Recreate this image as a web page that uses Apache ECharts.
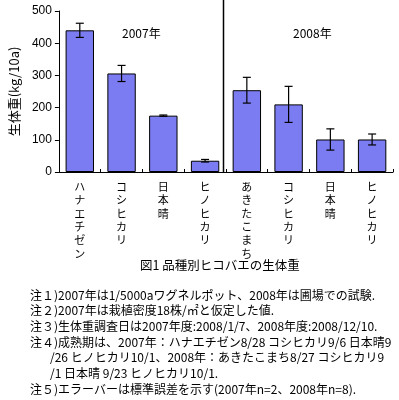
<!DOCTYPE html>
<html><head><meta charset="utf-8">
<script src="https://cdn.jsdelivr.net/npm/echarts@6/dist/echarts.min.js"></script>
<style>html,body{margin:0;padding:0;background:#fff}#c{width:399px;height:400px}</style>
</head><body><div id="c"></div>
<script>
const categories = ['ハナエチゼン','コシヒカリ','日本晴','ヒノヒカリ','あきたこまち','コシヒカリ','日本晴','ヒノヒカリ'];
const values = [440, 306, 175, 35, 254, 210, 101, 101];
const errors = [22, 25, 2, 4, 40, 56, 33, 17];
const yTicks = [0, 100, 200, 300, 400, 500];
const yearLabels = ['2007年', '2008年'];
const separatorIndex = 4;
const yAxisName = '生体重(kg/10a)';
const chartTitle = '図1 品種別ヒコバエの生体重';
const noteLines = [
  '注１)2007年は1/5000aワグネルポット、2008年は圃場での試験.',
  '注２)2007年は栽植密度18株/㎡と仮定した値.',
  '注３)生体重調査日は2007年度:2008/1/7、2008年度:2008/12/10.',
  '注４)成熟期は、2007年：ハナエチゼン8/28 コシヒカリ9/6 日本晴9',
  '/26 ヒノヒカリ10/1、2008年：あきたこまち8/27 コシヒカリ9',
  '/1 日本晴 9/23 ヒノヒカリ10/1.',
  '注５)エラーバーは標準誤差を示す(2007年n=2、2008年n=8).'
];
const noteIndent = [0,0,0,0,1,1,0];

const jp = "'Noto Sans CJK JP', sans-serif";
const chart = echarts.init(document.getElementById('c'), null, {renderer:'canvas'});

const graphics = [];
graphics.push({type:'text', left:122, top:27, style:{text:yearLabels[0], font:"12px "+jp, fill:'#000'}});
graphics.push({type:'text', left:293, top:27, style:{text:yearLabels[1], font:"12px "+jp, fill:'#000'}});
graphics.push({type:'text', left:140, top:259, style:{text:chartTitle, font:"12.5px "+jp, fill:'#000'}});
noteLines.forEach((t,i)=>{
  graphics.push({type:'text', left: noteIndent[i] ? 50 : 30, top: 289 + i*15.7,
    style:{text:t, font:"12px "+jp, fill:'#000'}});
});

chart.setOption({
  animation:false,
  backgroundColor:'#fff',
  grid:[
    {left:54, right:6, top:11, bottom:228, containLabel:false},
    {left:54, right:6, top:0, bottom:228, containLabel:false}
  ],
  xAxis:[
    {type:'category', gridIndex:0, data:categories,
     axisLine:{lineStyle:{color:'#000', width:1}},
     axisTick:{show:true, inside:true, length:3, alignWithLabel:false, lineStyle:{color:'#000'}},
     axisLabel:{color:'#000', fontFamily:jp, fontSize:11, lineHeight:13.4, margin:8, interval:0,
       formatter:v=>v.split('').join('\n'), verticalAlign:'top'},
     splitLine:{show:false}},
    {type:'value', gridIndex:1, min:0, max:categories.length, show:false}
  ],
  yAxis:[
    {type:'value', gridIndex:0, min:yTicks[0], max:yTicks[yTicks.length-1], interval:100,
     name:yAxisName, nameLocation:'middle', nameGap:32, nameRotate:90,
     nameTextStyle:{color:'#000', fontFamily:jp, fontSize:13},
     axisLine:{show:true, lineStyle:{color:'#000'}},
     axisTick:{show:true, length:4, lineStyle:{color:'#000'}},
     axisLabel:{color:'#000', fontFamily:"'Liberation Sans', Arial, sans-serif", fontSize:12, margin:7},
     splitLine:{show:false}},
    {type:'value', gridIndex:1, min:0, max:1, show:false}
  ],
  series:[
    {type:'bar', xAxisIndex:0, yAxisIndex:0, data:values, barWidth:'68%',
     itemStyle:{color:'#7c7cf2', borderColor:'#000', borderWidth:1}},
    {type:'custom', xAxisIndex:0, yAxisIndex:0,
     data: values.map((v,i)=>[i, v-errors[i], v+errors[i]]),
     renderItem:function(params, api){
       const x = api.value(0);
       const lo = api.coord([x, api.value(1)]);
       const hi = api.coord([x, api.value(2)]);
       const hw = 4;
       const s = {stroke:'#000', lineWidth:1.2};
       return {type:'group', children:[
         {type:'line', shape:{x1:lo[0], y1:lo[1], x2:hi[0], y2:hi[1]}, style:s},
         {type:'line', shape:{x1:lo[0]-hw, y1:lo[1], x2:lo[0]+hw, y2:lo[1]}, style:s},
         {type:'line', shape:{x1:hi[0]-hw, y1:hi[1], x2:hi[0]+hw, y2:hi[1]}, style:s}
       ]};
     }, z:5},
    {type:'line', xAxisIndex:1, yAxisIndex:1, data:[[separatorIndex,0],[separatorIndex,1]],
     symbol:'none', lineStyle:{color:'#000', width:1.5}, silent:true}
  ],
  graphic: graphics
});
</script></body></html>
